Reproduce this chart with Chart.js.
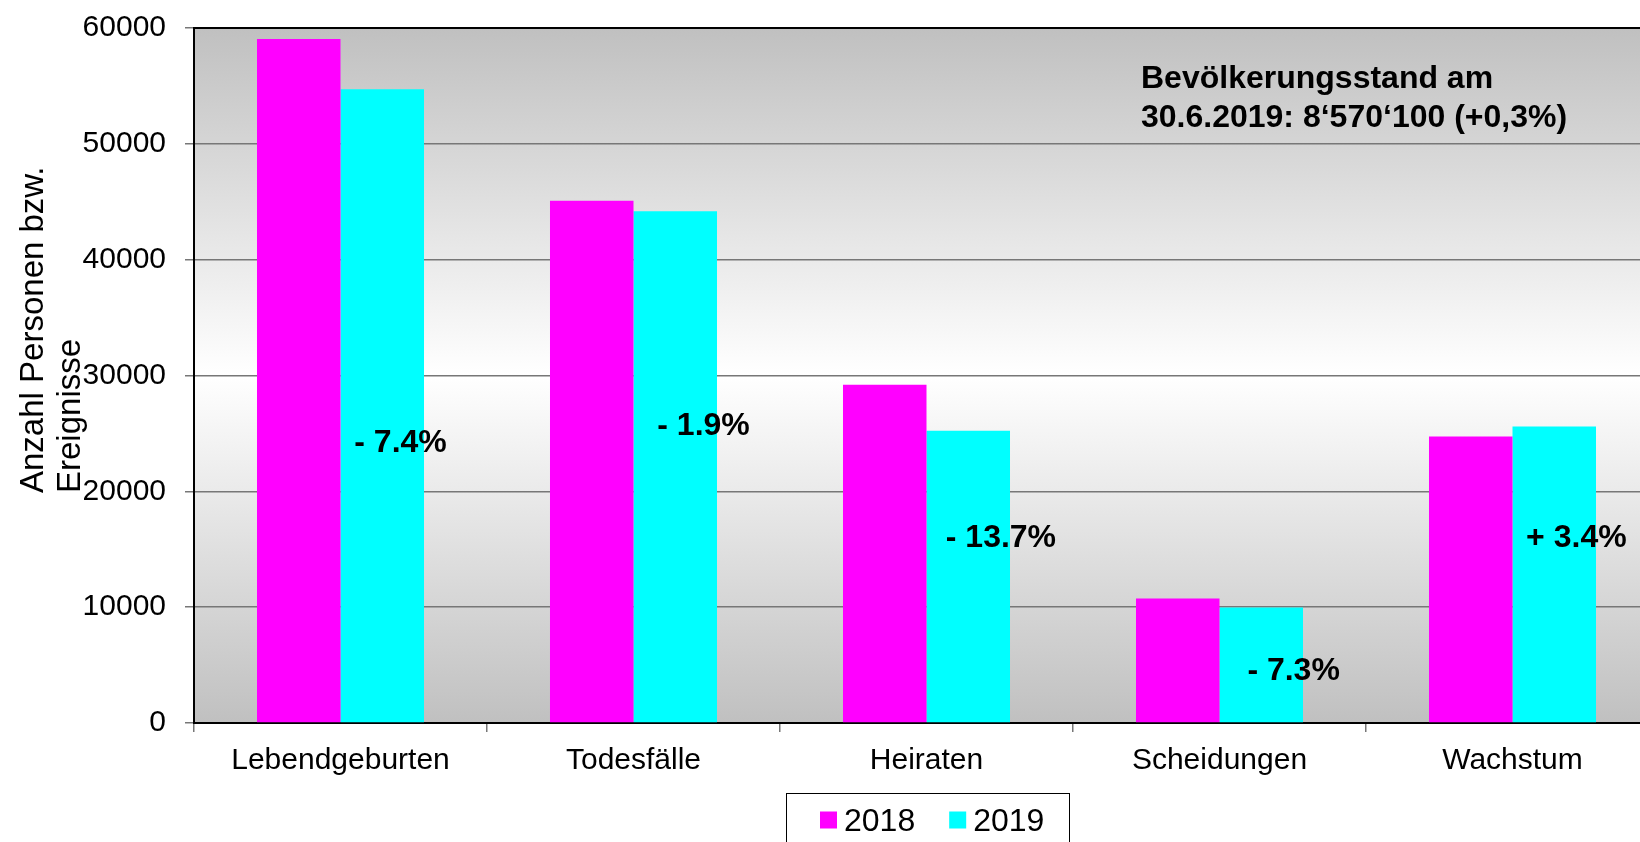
<!DOCTYPE html>
<html>
<head>
<meta charset="utf-8">
<script src="https://cdn.jsdelivr.net/npm/chart.js@4/dist/chart.umd.min.js"></script>
<style>
  html, body { margin: 0; padding: 0; background: #ffffff; overflow: hidden; }
  #wrap { position: relative; width: 1659px; height: 842px; }
</style>
</head>
<body>
<div id="wrap"><canvas id="c"></canvas></div>
<script>
// ---- data ----
const categories = ['Lebendgeburten', 'Todesfälle', 'Heiraten', 'Scheidungen', 'Wachstum'];
const seriesNames = ['2018', '2019'];
const values2018 = [59050, 45080, 29210, 10750, 24740];
const values2019 = [54720, 44180, 25240, 9965, 25600];
const changeLabels = ['- 7.4%', '- 1.9%', '- 13.7%', '- 7.3%', '+ 3.4%'];
const yTicks = [0, 10000, 20000, 30000, 40000, 50000, 60000];
const axisTitleLines = ['Anzahl Personen bzw.', 'Ereignisse'];
const noteLines = ['Bevölkerungsstand am', '30.6.2019: 8‘570‘100 (+0,3%)'];

// ---- annotation placement (value units / category fractions) ----
const changeLabelAt = [24370, 25880, 16180, 4720, 16220];
const changeLabelShift = [0.205, 0.239, 0.254, 0.253, 0.218];

const FONT = '"Liberation Sans", Arial, Helvetica, sans-serif';
const colors = ['#ff00ff', '#00ffff'];

const decorPlugin = {
  id: 'decor',
  beforeDraw(chart) {
    const {ctx, chartArea: a} = chart;
    const g = ctx.createLinearGradient(0, a.top, 0, a.bottom);
    g.addColorStop(0, '#c0c0c0');
    g.addColorStop(0.5, '#ffffff');
    g.addColorStop(1, '#c0c0c0');
    ctx.save();
    ctx.fillStyle = g;
    ctx.fillRect(a.left, a.top, a.right - a.left, a.bottom - a.top);
    ctx.restore();
  },
  afterDraw(chart) {
    const {ctx, chartArea: a, scales} = chart;
    const xs = scales.x, ys = scales.y;
    ctx.save();
    // top border of plot
    ctx.strokeStyle = '#000';
    ctx.lineWidth = 2;
    ctx.beginPath();
    ctx.moveTo(a.left - 1, a.top);
    ctx.lineTo(a.right, a.top);
    ctx.stroke();

    // change annotations
    const catW = (xs.right - xs.left) / categories.length;
    ctx.fillStyle = '#000';
    ctx.font = 'bold 32px ' + FONT;
    ctx.textAlign = 'center';
    ctx.textBaseline = 'alphabetic';
    changeLabels.forEach((t, i) => {
      const x = xs.getPixelForValue(i) + changeLabelShift[i] * catW;
      const y = ys.getPixelForValue(changeLabelAt[i]) + 11.5;
      ctx.fillText(t, x, y);
    });

    // note, top right
    ctx.font = 'bold 32px ' + FONT;
    ctx.textAlign = 'left';
    ctx.fillText(noteLines[0], a.left + 947, a.top + 60);
    ctx.fillText(noteLines[1], a.left + 947, a.top + 99);

    // y axis title (rotated, left aligned)
    ctx.font = '33px ' + FONT;
    ctx.textAlign = 'left';
    const startY = a.top + 465;
    [43, 80].forEach((bx, i) => {
      ctx.save();
      ctx.translate(bx, startY);
      ctx.rotate(-Math.PI / 2);
      ctx.fillText(axisTitleLines[i], 0, 0);
      ctx.restore();
    });

    // legend
    const cx = (a.left + a.right) / 2;
    const boxL = cx - 140.5, boxR = cx + 142.5, boxT = a.bottom + 69.5;
    ctx.strokeStyle = '#000';
    ctx.lineWidth = 1;
    ctx.strokeRect(Math.round(boxL) + 0.5, Math.round(boxT) + 0.5, boxR - boxL, 80);
    ctx.font = '32px ' + FONT;
    let x = boxL + 34;
    chart.data.datasets.forEach((ds) => {
      ctx.fillStyle = ds.backgroundColor;
      ctx.fillRect(x, a.bottom + 88.5, 17, 17);
      x += 24;
      ctx.fillStyle = '#000';
      ctx.fillText(ds.label, x, a.bottom + 108);
      x += ctx.measureText(ds.label).width + 34;
    });
    ctx.restore();
  }
};

new Chart(document.getElementById('c'), {
  type: 'bar',
  data: {
    labels: categories,
    datasets: [
      { label: seriesNames[0], data: values2018, backgroundColor: colors[0], borderWidth: 0 },
      { label: seriesNames[1], data: values2019, backgroundColor: colors[1], borderWidth: 0 }
    ]
  },
  options: {
    responsive: true,
    maintainAspectRatio: false,
    animation: false,
    categoryPercentage: 0.57,
    barPercentage: 1.0,
    layout: { padding: { top: 27, left: 0, right: 0, bottom: 0 } },
    plugins: { legend: { display: false }, tooltip: { enabled: false } },
    scales: {
      x: {
        grid: { offset: true, drawOnChartArea: false, drawTicks: true, tickLength: 9, color: '#777', lineWidth: 1.5 },
        border: { display: true, color: '#000', width: 2 },
        ticks: { color: '#000', font: { family: FONT, size: 30 }, padding: 11, maxRotation: 0, autoSkip: false },
        afterFit(s) { s.height = 119; }
      },
      y: {
        min: 0, max: 60000,
        afterBuildTicks(s) { s.ticks = yTicks.map(v => ({ value: v })); },
        grid: { color: '#777', lineWidth: 1.5, tickLength: 9 },
        border: { display: true, color: '#000', width: 2 },
        ticks: { color: '#000', font: { family: FONT, size: 30, lineHeight: 0.6 }, padding: 19, callback: v => String(v) },
        afterFit(s) { s.width = 194; }
      }
    }
  },
  plugins: [decorPlugin]
});
</script>
</body>
</html>
